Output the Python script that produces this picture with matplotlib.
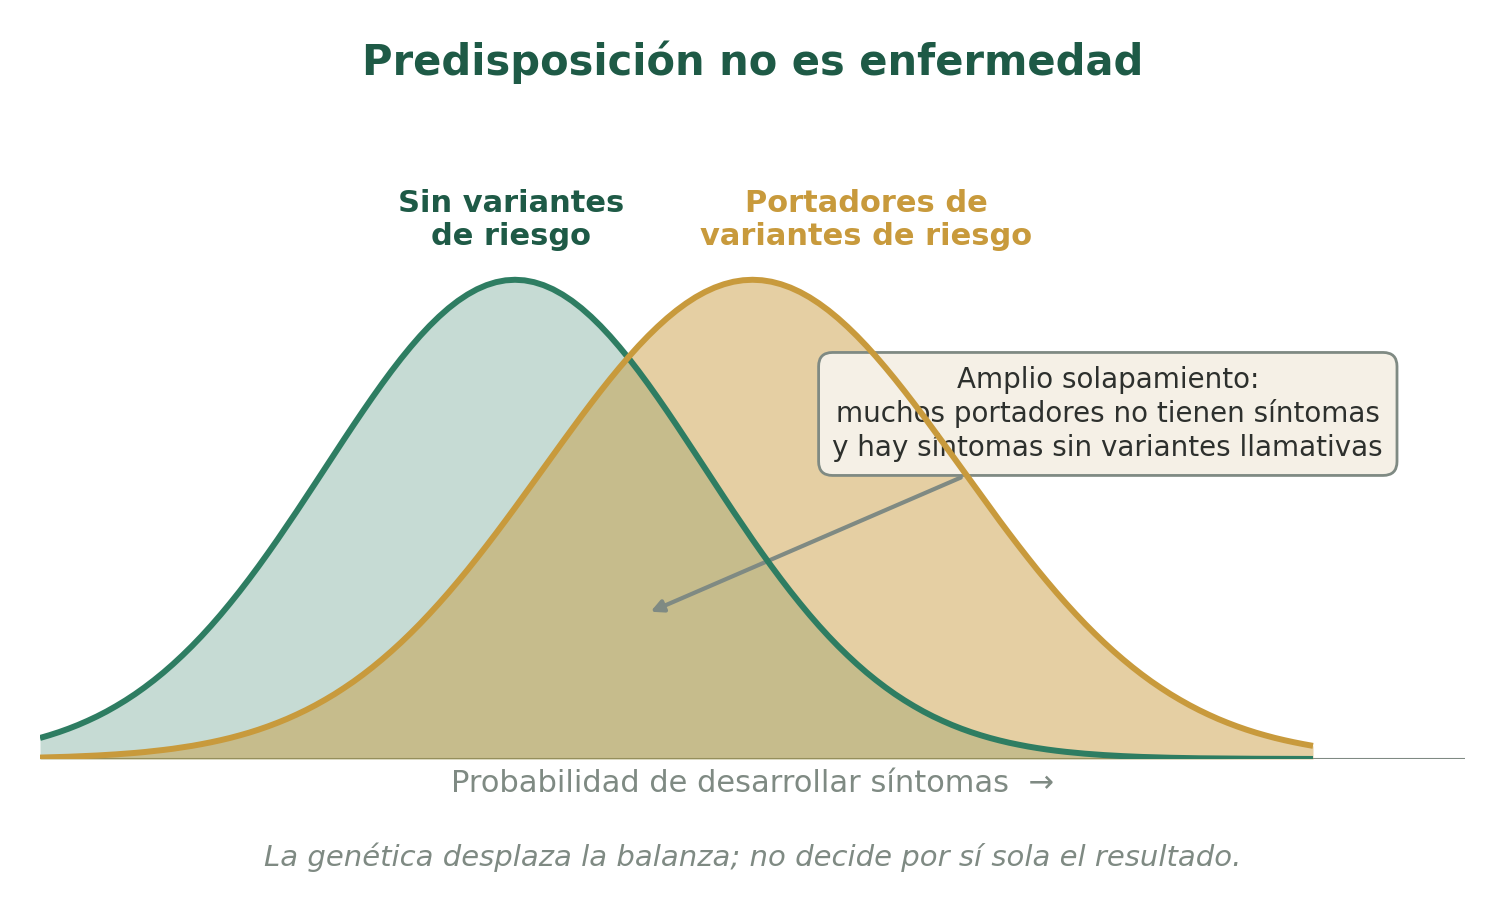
import numpy as np
import matplotlib.pyplot as plt

plt.rcParams['font.family'] = ['DejaVu Sans']

x_pos = np.linspace(-2.5, 4.2, 135)
sin_variantes = [
    0.0439, 0.0497, 0.0561, 0.0632, 0.0710, 0.0796, 0.0889, 0.0991, 0.1103, 0.1223,
    0.1353, 0.1494, 0.1645, 0.1806, 0.1979, 0.2163, 0.2357, 0.2563, 0.2780, 0.3008,
    0.3247, 0.3495, 0.3753, 0.4020, 0.4296, 0.4578, 0.4868, 0.5162, 0.5461, 0.5762,
    0.6065, 0.6368, 0.6670, 0.6968, 0.7261, 0.7548, 0.7827, 0.8096, 0.8353, 0.8596,
    0.8825, 0.9037, 0.9231, 0.9406, 0.9560, 0.9692, 0.9802, 0.9888, 0.9950, 0.9988,
    1.0000,
    0.9988, 0.9950, 0.9888, 0.9802, 0.9692, 0.9560, 0.9406, 0.9231, 0.9037, 0.8825,
    0.8596, 0.8353, 0.8096, 0.7827, 0.7548, 0.7261, 0.6968, 0.6670, 0.6368, 0.6065,
    0.5762, 0.5461, 0.5162, 0.4868, 0.4578, 0.4296, 0.4020, 0.3753, 0.3495, 0.3247,
    0.3008, 0.2780, 0.2563, 0.2357, 0.2163, 0.1979, 0.1806, 0.1645, 0.1494, 0.1353,
    0.1223, 0.1103, 0.0991, 0.0889, 0.0796, 0.0710, 0.0632, 0.0561, 0.0497, 0.0439,
    0.0387, 0.0340, 0.0299, 0.0261, 0.0228, 0.0198, 0.0172, 0.0149, 0.0129, 0.0111,
    0.0096, 0.0082, 0.0070, 0.0060, 0.0051, 0.0043, 0.0037, 0.0031, 0.0026, 0.0022,
    0.0018, 0.0015, 0.0013, 0.0011, 0.0009, 0.0007, 0.0006, 0.0005, 0.0004, 0.0003,
    0.0003, 0.0002, 0.0002, 0.0001]
portadores = [
    0.0030, 0.0035, 0.0041, 0.0047, 0.0055, 0.0063, 0.0073, 0.0084, 0.0097, 0.0111,
    0.0127, 0.0145, 0.0166, 0.0189, 0.0214, 0.0243, 0.0274, 0.0310, 0.0349, 0.0392,
    0.0439, 0.0492, 0.0549, 0.0612, 0.0681, 0.0756, 0.0837, 0.0926, 0.1021, 0.1124,
    0.1235, 0.1353, 0.1481, 0.1616, 0.1761, 0.1915, 0.2078, 0.2250, 0.2431, 0.2622,
    0.2821, 0.3030, 0.3247, 0.3472, 0.3706, 0.3946, 0.4195, 0.4449, 0.4709, 0.4974,
    0.5243, 0.5516, 0.5790, 0.6065, 0.6341, 0.6615, 0.6887, 0.7156, 0.7419, 0.7676,
    0.7926, 0.8167, 0.8398, 0.8618, 0.8825, 0.9018, 0.9197, 0.9360, 0.9506, 0.9635,
    0.9745, 0.9836, 0.9907, 0.9959, 0.9990, 1.0000,
    0.9990, 0.9959, 0.9907, 0.9836, 0.9745, 0.9635, 0.9506, 0.9360, 0.9197, 0.9018,
    0.8825, 0.8618, 0.8398, 0.8167, 0.7926, 0.7676, 0.7419, 0.7156, 0.6887, 0.6615,
    0.6341, 0.6065, 0.5790, 0.5516, 0.5243, 0.4974, 0.4709, 0.4449, 0.4195, 0.3946,
    0.3706, 0.3472, 0.3247, 0.3030, 0.2821, 0.2622, 0.2431, 0.2250, 0.2078, 0.1915,
    0.1761, 0.1616, 0.1481, 0.1353, 0.1235, 0.1124, 0.1021, 0.0926, 0.0837, 0.0756,
    0.0681, 0.0612, 0.0549, 0.0492, 0.0439, 0.0392, 0.0349, 0.0310, 0.0274]

verde = '#2e7d62'
verde_osc = '#1e5a46'
oro = '#c89a3c'
gris = '#7f8a83'

fig = plt.figure(figsize=(15.05, 9.11), dpi=100)
ax = fig.add_axes([40/1505, 152/911, 1425/1505, 623/911])
ax.set_xlim(-2.5, 5.0)
ax.set_ylim(0, 1.3)
ax.axis('off')

ax.axhline(0, color=gris, lw=1.5, zorder=0.5)
ax.fill_between(x_pos, sin_variantes, color=verde, alpha=0.27, lw=0, zorder=1)
ax.fill_between(x_pos, portadores, color=oro, alpha=0.47, lw=0, zorder=1.5)
ax.plot(x_pos, sin_variantes, color=verde, lw=4.3, solid_capstyle='butt', zorder=4)
ax.plot(x_pos, portadores, color=oro, lw=4.3, solid_capstyle='butt', zorder=4.5)

ax.text(-0.02, 1.125, 'Sin variantes\nde riesgo', ha='center', va='center',
        fontsize=22, fontweight='bold', color=verde_osc, linespacing=1.15)
ax.text(1.85, 1.125, 'Portadores de\nvariantes de riesgo', ha='center', va='center',
        fontsize=22, fontweight='bold', color=oro, linespacing=1.15)

ax.annotate('Amplio solapamiento:\nmuchos portadores no tienen síntomas\ny hay síntomas sin variantes llamativas',
            xy=(0.7, 0.305), xytext=(3.12, 0.72), ha='center', va='center',
            fontsize=20, color='#2d302d', zorder=3, linespacing=1.2,
            bbox=dict(boxstyle='round,pad=0.5', fc='#f5f0e6', ec=gris, lw=2),
            arrowprops=dict(arrowstyle='-|>', color=gris, lw=3, mutation_scale=18))

fig.text(0.5, 1 - 62/911, 'Predisposición no es enfermedad', ha='center', va='center',
         fontsize=30, fontweight='bold', color=verde_osc)
fig.text(0.5, 1 - 784/911, 'Probabilidad de desarrollar síntomas  →', ha='center', va='center',
         fontsize=22, color=gris)
fig.text(0.5, 1 - 857/911, 'La genética desplaza la balanza; no decide por sí sola el resultado.',
         ha='center', va='center', fontsize=21, style='italic', color=gris)

fig.savefig('out.png', dpi=100)
